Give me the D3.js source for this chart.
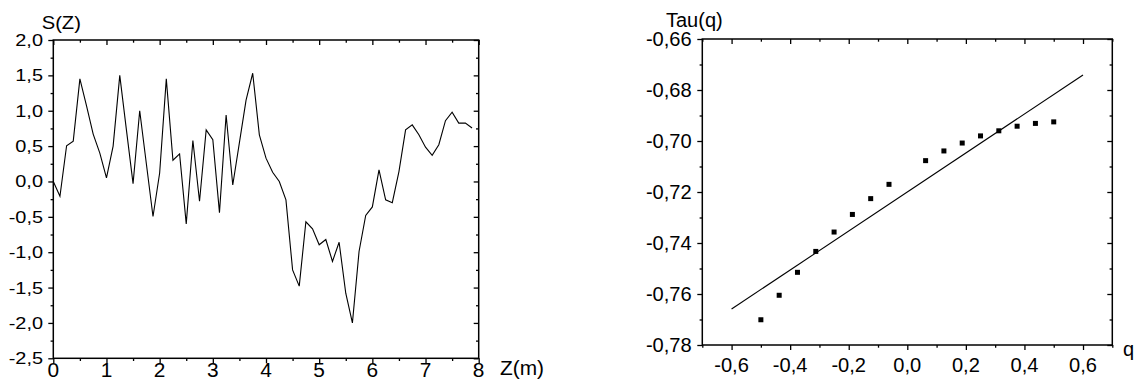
<!DOCTYPE html>
<html><head><meta charset="utf-8">
<script src="https://cdn.jsdelivr.net/npm/d3@7"></script>
<style>body{margin:0;background:#fff}svg{display:block}text{font-family:"Liberation Sans",Arial,sans-serif;fill:#000}</style>
</head><body>
<svg id="c" width="1142" height="388"></svg>
<script>
// ---- Left chart data: S(Z) ----
const zValues = [0,0.125,0.25,0.375,0.5,0.625,0.75,0.875,1,1.125,1.25,1.375,1.5,1.625,1.75,1.875,
 2,2.125,2.25,2.375,2.5,2.625,2.75,2.875,3,3.125,3.25,3.375,3.5,3.625,3.75,3.875,
 4,4.125,4.25,4.375,4.5,4.625,4.75,4.875,5,5.125,5.25,5.375,5.5,5.625,5.75,5.875,
 6,6.125,6.25,6.375,6.5,6.625,6.75,6.875,7,7.125,7.25,7.375,7.5,7.625,7.75,7.875];
const sValues = [0.0,-0.21,0.505,0.57,1.45,1.07,0.67,0.40,0.05,0.50,1.50,0.73,-0.03,1.0,0.25,-0.495,
 0.12,1.45,0.30,0.39,-0.60,0.58,-0.28,0.73,0.59,-0.44,0.94,-0.05,0.55,1.15,1.53,0.66,
 0.33,0.13,0.0,-0.26,-1.25,-1.48,-0.57,-0.67,-0.895,-0.82,-1.13,-0.86,-1.58,-2.0,-0.99,-0.48,
 -0.36,0.165,-0.26,-0.30,0.14,0.73,0.80,0.66,0.485,0.37,0.52,0.86,0.98,0.825,0.825,0.755];
const leftXTicks = [0,1,2,3,4,5,6,7,8];
const leftXMinor = [0.5,1.5,2.5,3.5,4.5,5.5,6.5,7.5];
const leftYTicks = [-2.5,-2.0,-1.5,-1.0,-0.5,0.0,0.5,1.0,1.5,2.0];
const leftYMinor = [-2.25,-1.75,-1.25,-0.75,-0.25,0.25,0.75,1.25,1.75];

// ---- Right chart data: Tau(q) ----
const qValues = [-0.5,-0.4375,-0.375,-0.3125,-0.25,-0.1875,-0.125,-0.0625,0.0625,0.125,0.1875,0.25,0.3125,0.375,0.4375,0.5];
const tauValues = [-0.7701,-0.7605,-0.7515,-0.7433,-0.7357,-0.7288,-0.7226,-0.7170,-0.7077,-0.7039,-0.7008,-0.6980,-0.6960,-0.6942,-0.6931,-0.6925];
const fitQ = [-0.6,0.6];
const fitTau = [-0.7659,-0.6741];
const rightXTicks = [-0.6,-0.4,-0.2,0.0,0.2,0.4,0.6];
const rightXMinor = [-0.7,-0.5,-0.3,-0.1,0.1,0.3,0.5,0.7];
const rightYTicks = [-0.78,-0.76,-0.74,-0.72,-0.70,-0.68,-0.66];
const rightYMinor = [-0.77,-0.75,-0.73,-0.71,-0.69,-0.67];

const svg = d3.select("#c");

function stretch(sel, f){
  sel.each(function(){
    const w = this.getComputedTextLength();
    d3.select(this).attr("textLength", w*f).attr("lengthAdjust","spacingAndGlyphs");
  });
}
function fmt(d, n){ return d.toFixed(n).replace(".", ","); }

function frame(g, x, y, opts){
  const [x0,x1] = x.range(), [y0,y1] = y.range();
  const M=5, m=2.7;
  const mk = (axis, vals, size, tr) => {
    const a = g.append("g").attr("transform", tr)
      .call(axis.tickValues(vals).tickSize(size).tickFormat(""));
    a.select(".domain").remove();
    a.selectAll("line").attr("stroke","#000").attr("stroke-width",1.3);
  };
  mk(d3.axisBottom(x), opts.xt, M, `translate(0,${y0})`);
  mk(d3.axisBottom(x), opts.xm, m, `translate(0,${y0})`);
  mk(d3.axisTop(x), opts.xt, -M, `translate(0,${y1})`);
  mk(d3.axisTop(x), opts.xm, -m, `translate(0,${y1})`);
  mk(d3.axisLeft(y), opts.yt, M, `translate(${x0},0)`);
  mk(d3.axisLeft(y), opts.ym, m, `translate(${x0},0)`);
  mk(d3.axisRight(y), opts.yt, -M, `translate(${x1},0)`);
  mk(d3.axisRight(y), opts.ym, -m, `translate(${x1},0)`);
  g.append("rect").attr("x",x0).attr("y",y1).attr("width",x1-x0).attr("height",y0-y1)
    .attr("fill","none").attr("stroke","#000").attr("stroke-width",1.5);
}

// ---- Left chart ----
const xL = d3.scaleLinear().domain([0,8]).range([53.3,478.7]);
const yL = d3.scaleLinear().domain([-2.5,2]).range([358.3,40]);
const gL = svg.append("g");
gL.append("path").datum(zValues.map((z,i)=>[z,sValues[i]]))
  .attr("fill","none").attr("stroke","#000").attr("stroke-width",1.1)
  .attr("d", d3.line().x(d=>xL(d[0])).y(d=>yL(d[1])));
frame(gL, xL, yL, {xt:leftXTicks, xm:leftXMinor, yt:leftYTicks, ym:leftYMinor});
gL.selectAll("text.yl").data(leftYTicks).join("text").attr("class","yl")
  .attr("x",43).attr("y",d=>yL(d)+6).attr("text-anchor","end")
  .style("font-size","16.6px").text(d=>fmt(d,1)).call(stretch,1.2);
gL.selectAll("text.xl").data(leftXTicks).join("text").attr("class","xl")
  .attr("x",d=>xL(d)).attr("y",376.5).attr("text-anchor","middle")
  .style("font-size","19.5px").text(d=>String(d)).call(stretch,1.07);
gL.append("text").attr("x",41.7).attr("y",28.5).style("font-size","18px").text("S(Z)").call(stretch,1.12);
gL.append("text").attr("x",500).attr("y",374.5).style("font-size","19.5px").text("Z(m)").call(stretch,1.07);

// ---- Right chart ----
const xR = d3.scaleLinear().domain([-0.7,0.7]).range([702.3,1112.3]);
const yR = d3.scaleLinear().domain([-0.78,-0.66]).range([345,39]);
const gR = svg.append("g");
gR.append("line").attr("x1",xR(fitQ[0])).attr("y1",yR(fitTau[0])).attr("x2",xR(fitQ[1])).attr("y2",yR(fitTau[1]))
  .attr("stroke","#000").attr("stroke-width",1.1);
const sq = 5;
gR.selectAll("rect.pt").data(qValues.map((q,i)=>[q,tauValues[i]])).join("rect").attr("class","pt")
  .attr("x",d=>xR(d[0])-sq/2).attr("y",d=>yR(d[1])-sq/2).attr("width",sq).attr("height",sq).attr("fill","#000");
frame(gR, xR, yR, {xt:rightXTicks, xm:rightXMinor, yt:rightYTicks, ym:rightYMinor});
gR.selectAll("text.yl").data(rightYTicks).join("text").attr("class","yl")
  .attr("x",691.7).attr("y",d=>yR(d)+7).attr("text-anchor","end")
  .style("font-size","19.5px").text(d=>fmt(d,2)).call(stretch,1.03);
gR.selectAll("text.xl").data(rightXTicks).join("text").attr("class","xl")
  .attr("x",d=>xR(d)).attr("y",372).attr("text-anchor","middle")
  .style("font-size","19.5px").text(d=>fmt(d,1)).call(stretch,1.03);
gR.append("text").attr("x",666).attr("y",27).style("font-size","20px").text("Tau(q)").call(stretch,1.0);
gR.append("text").attr("x",1123).attr("y",356).style("font-size","20px").text("q");
</script>
</body></html>
